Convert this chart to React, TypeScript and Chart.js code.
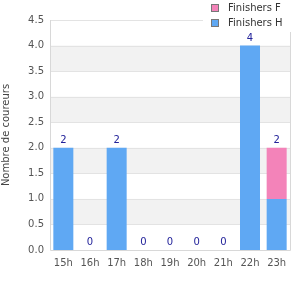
import React, { useEffect, useRef } from "react";
import { Chart, registerables } from "chart.js";

Chart.register(...registerables);

const categories = ["15h", "16h", "17h", "18h", "19h", "20h", "21h", "22h", "23h"];
const finishersH = [2, 0, 2, 0, 0, 0, 0, 4, 1];
const finishersF = [0, 0, 0, 0, 0, 0, 0, 0, 1];
const yTicks = [0, 0.5, 1, 1.5, 2, 2.5, 3, 3.5, 4, 4.5];
const seriesNames = ["Finishers H", "Finishers F"];
const yTitle = "Nombre de coureurs";

const BLUE = "#5fa8f3";
const PINK = "#f383b9";
const FONT = "'DejaVu Sans', sans-serif";

const bandsPlugin = {
  id: "bands",
  beforeDatasetsDraw(chart: any) {
    const { ctx, chartArea } = chart;
    const y = chart.scales.y;
    ctx.save();
    ctx.fillStyle = "#f2f2f2";
    for (let i = 0; i < yTicks.length - 1; i++) {
      // shade bands 0.5-1.0, 1.5-2.0, ...
      if (i % 2 === 1) {
        const y0 = y.getPixelForValue(yTicks[i]);
        const y1 = y.getPixelForValue(yTicks[i + 1]);
        ctx.fillRect(chartArea.left, y1, chartArea.right - chartArea.left, y0 - y1);
      }
    }
    // redraw grid lines over bands
    ctx.strokeStyle = "#e3e3e3";
    ctx.lineWidth = 1;
    for (let i = 1; i < yTicks.length; i++) {
      const p = Math.round(y.getPixelForValue(yTicks[i])) + 0.5;
      ctx.beginPath();
      ctx.moveTo(chartArea.left, p);
      ctx.lineTo(chartArea.right, p);
      ctx.stroke();
    }
    ctx.restore();
  },
  afterDraw(chart: any) {
    const { ctx, chartArea } = chart;
    const x = chart.scales.x;
    const y = chart.scales.y;
    ctx.save();
    // plot border
    ctx.strokeStyle = "#d8d8d8";
    ctx.lineWidth = 1;
    ctx.beginPath();
    ctx.moveTo(chartArea.left + 0.5, chartArea.top);
    ctx.lineTo(chartArea.left + 0.5, chartArea.bottom + 0.5);
    ctx.lineTo(chartArea.right + 0.5, chartArea.bottom + 0.5);
    ctx.lineTo(chartArea.right + 0.5, chartArea.top);
    ctx.stroke();
    // totals
    ctx.fillStyle = "#22229a";
    ctx.font = "10px " + FONT;
    ctx.textAlign = "center";
    ctx.textBaseline = "alphabetic";
    categories.forEach((_, i) => {
      const total = finishersH[i] + finishersF[i];
      const px = x.getPixelForValue(i);
      const py = y.getPixelForValue(total);
      ctx.fillText(String(total), px, py - 5);
    });
    // legend
    ctx.fillStyle = "#ffffff";
    ctx.fillRect(203, 0, 97, 32);
    const items = [
      { name: seriesNames[1], color: PINK },
      { name: seriesNames[0], color: BLUE },
    ];
    items.forEach((it, k) => {
      const cy = 8 + k * 15;
      ctx.fillStyle = it.color;
      ctx.fillRect(212, cy - 3, 6, 6);
      ctx.strokeStyle = "#777777";
      ctx.strokeRect(211.5, cy - 3.5, 7, 7);
      ctx.fillStyle = "#333333";
      ctx.font = "10px " + FONT;
      ctx.textAlign = "left";
      ctx.textBaseline = "middle";
      ctx.fillText(it.name, 228, cy);
    });
    ctx.restore();
  },
};

export default function App() {
  const ref = useRef<HTMLCanvasElement>(null);
  useEffect(() => {
    const chart = new Chart(ref.current!, {
      type: "bar",
      data: {
        labels: categories,
        datasets: [
          { label: seriesNames[0], data: finishersH, backgroundColor: BLUE },
          { label: seriesNames[1], data: finishersF, backgroundColor: PINK },
        ],
      },
      options: {
        responsive: false,
        animation: false,
        layout: { padding: { top: 20, right: 10, left: 0, bottom: 0 } },
        plugins: { legend: { display: false }, tooltip: { enabled: false } },
        datasets: { bar: { barPercentage: 0.75, categoryPercentage: 1 } },
        scales: {
          x: {
            stacked: true,
            grid: { display: false, drawTicks: false },
            border: { display: false },
            ticks: { color: "#555555", font: { family: FONT, size: 10 }, padding: 7, maxRotation: 0 },
            afterFit: (s: any) => { s.height = 50; },
          },
          y: {
            stacked: true,
            min: 0,
            max: 4.5,
            grid: { display: false, drawTicks: false },
            border: { display: false },
            ticks: {
              stepSize: 0.5,
              color: "#555555",
              font: { family: FONT, size: 10 },
              padding: 6,
              callback: (v: any) => Number(v).toFixed(1),
            },
            title: {
              display: true,
              text: yTitle,
              color: "#444444",
              font: { family: FONT, size: 10 },
              padding: { top: 0, bottom: 0 },
            },
            afterFit: (s: any) => { s.width = 50; },
          },
        },
      },
      plugins: [bandsPlugin],
    });
    return () => chart.destroy();
  }, []);
  return (
    <div style={{ position: "absolute", left: 0, top: 0, width: 300, height: 300, background: "#fff" }}>
      <canvas ref={ref} width={300} height={300} style={{ display: "block" }} />
    </div>
  );
}
